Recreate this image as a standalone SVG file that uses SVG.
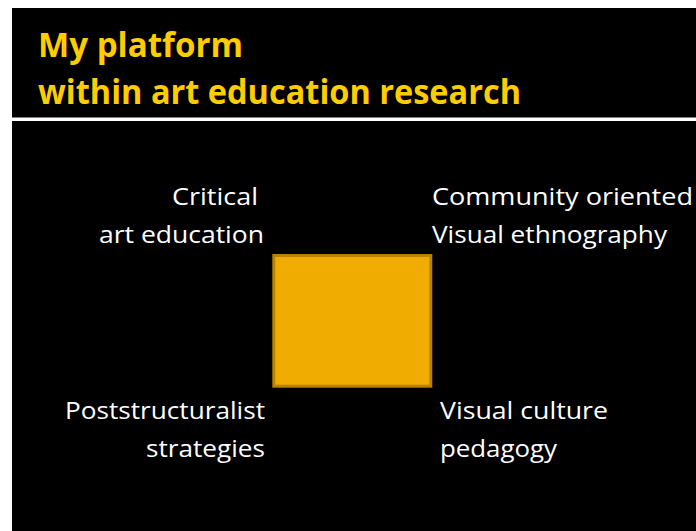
<svg xmlns="http://www.w3.org/2000/svg" width="696" height="531" viewBox="0 0 696 531">
<style>
.title{font-family:"Open Sans","Liberation Sans",sans-serif;font-weight:bold;font-size:34.5px;fill:#FFCC00}
.lbl{font-family:"Open Sans","Liberation Sans",sans-serif;font-size:24.5px;fill:#FFFFFF}
</style>
<rect x="0" y="0" width="696" height="531" fill="#FFFFFF"/>
<rect x="12" y="8" width="684" height="109.5" fill="#000000"/>
<rect x="12" y="121" width="684" height="410" fill="#000000"/>
<g id="title">
<text class="title" x="38" y="57" textLength="205" lengthAdjust="spacingAndGlyphs">My platform</text>
<text class="title" x="38" y="104" textLength="483" lengthAdjust="spacingAndGlyphs">within art education research</text>
</g>
<g id="center">
<rect x="273.8" y="255.5" width="157" height="130.7" fill="#F0AC00" stroke="#B88300" stroke-width="3"/>
</g>
<g id="critical">
<text class="lbl" x="258" y="205" text-anchor="end" textLength="86" lengthAdjust="spacingAndGlyphs">Critical</text>
<text class="lbl" x="264" y="243" text-anchor="end" textLength="165" lengthAdjust="spacingAndGlyphs">art education</text>
</g>
<g id="community">
<text class="lbl" x="432" y="205" textLength="261" lengthAdjust="spacingAndGlyphs">Community oriented</text>
<text class="lbl" x="432" y="243" textLength="235" lengthAdjust="spacingAndGlyphs">Visual ethnography</text>
</g>
<g id="poststructuralist">
<text class="lbl" x="265" y="419" text-anchor="end" textLength="200" lengthAdjust="spacingAndGlyphs">Poststructuralist</text>
<text class="lbl" x="265" y="457" text-anchor="end" textLength="119" lengthAdjust="spacingAndGlyphs">strategies</text>
</g>
<g id="visualculture">
<text class="lbl" x="440" y="419" textLength="168" lengthAdjust="spacingAndGlyphs">Visual culture</text>
<text class="lbl" x="440" y="457" textLength="117" lengthAdjust="spacingAndGlyphs">pedagogy</text>
</g>
<g id="connectors"></g>
</svg>
